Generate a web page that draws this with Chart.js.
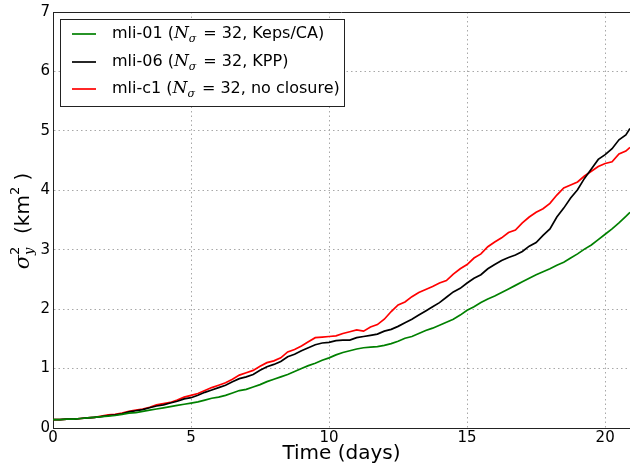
<!DOCTYPE html>
<html>
<head>
<meta charset="utf-8">
<script src="https://cdn.jsdelivr.net/npm/chart.js@4/dist/chart.umd.min.js"></script>
<style>
  html, body { margin: 0; padding: 0; background: #fff; }
  #wrap { width: 630px; height: 463px; }
</style>
</head>
<body>
<div id="wrap"><canvas id="c" width="630" height="463"></canvas></div>
<script>
// Time axis (days)
const days = [
  0, 0.25, 0.5, 0.75, 1, 1.25, 1.5, 1.75, 2, 2.25, 2.5, 2.75, 3, 3.25, 3.5, 3.75,
  4, 4.25, 4.5, 4.75, 5, 5.25, 5.5, 5.75, 6, 6.25, 6.5, 6.75, 7, 7.25, 7.5, 7.75,
  8, 8.25, 8.5, 8.75, 9, 9.25, 9.5, 9.75, 10, 10.25, 10.5, 10.75, 11, 11.25, 11.5, 11.75,
  12, 12.25, 12.5, 12.75, 13, 13.25, 13.5, 13.75, 14, 14.25, 14.5, 14.75, 15, 15.25, 15.5, 15.75,
  16, 16.25, 16.5, 16.75, 17, 17.25, 17.5, 17.75, 18, 18.25, 18.5, 18.75, 19, 19.25, 19.5, 19.75,
  20, 20.25, 20.5, 20.75, 20.9
];

// Meridional dispersion sigma_y^2 (km^2)
const mli01 = [
  0.14, 0.14, 0.15, 0.15, 0.16, 0.17, 0.18, 0.19, 0.20, 0.21, 0.23, 0.25, 0.26, 0.28, 0.30, 0.32,
  0.34, 0.36, 0.38, 0.40, 0.42, 0.44, 0.47, 0.50, 0.52, 0.55, 0.59, 0.63, 0.65, 0.69, 0.73, 0.78,
  0.82, 0.86, 0.90, 0.95, 1.00, 1.05, 1.09, 1.14, 1.18, 1.23, 1.27, 1.30, 1.33, 1.35, 1.36, 1.37,
  1.39, 1.42, 1.46, 1.51, 1.54, 1.59, 1.64, 1.68, 1.73, 1.78, 1.83, 1.90, 1.98, 2.04, 2.11, 2.17,
  2.22, 2.28, 2.34, 2.40, 2.46, 2.52, 2.58, 2.63, 2.68, 2.74, 2.79, 2.86, 2.93, 3.01, 3.08, 3.17,
  3.26, 3.35, 3.45, 3.56, 3.63
];
const mli06 = [
  0.14, 0.14, 0.15, 0.15, 0.16, 0.17, 0.18, 0.19, 0.21, 0.22, 0.24, 0.27, 0.29, 0.31, 0.34, 0.37,
  0.39, 0.42, 0.45, 0.49, 0.51, 0.55, 0.60, 0.64, 0.68, 0.72, 0.78, 0.83, 0.86, 0.90, 0.97, 1.03,
  1.07, 1.12, 1.20, 1.24, 1.30, 1.35, 1.40, 1.43, 1.44, 1.47, 1.48, 1.48, 1.52, 1.54, 1.56, 1.58,
  1.63, 1.66, 1.71, 1.77, 1.83, 1.90, 1.97, 2.04, 2.11, 2.20, 2.29, 2.35, 2.44, 2.52, 2.58, 2.68,
  2.75, 2.82, 2.87, 2.91, 2.97, 3.06, 3.12, 3.24, 3.35, 3.55, 3.70, 3.87, 4.01, 4.20, 4.36, 4.52,
  4.60, 4.70, 4.85, 4.93, 5.04
];
const mlic1 = [
  0.14, 0.14, 0.15, 0.15, 0.16, 0.17, 0.18, 0.20, 0.22, 0.23, 0.25, 0.28, 0.30, 0.32, 0.35, 0.39,
  0.41, 0.43, 0.47, 0.52, 0.55, 0.58, 0.63, 0.68, 0.72, 0.76, 0.82, 0.89, 0.93, 0.97, 1.04, 1.10,
  1.13, 1.18, 1.28, 1.32, 1.38, 1.45, 1.52, 1.53, 1.54, 1.55, 1.59, 1.62, 1.65, 1.63, 1.70, 1.74,
  1.83, 1.96, 2.07, 2.12, 2.21, 2.28, 2.33, 2.38, 2.44, 2.48, 2.59, 2.68, 2.75, 2.86, 2.93, 3.05,
  3.13, 3.20, 3.29, 3.33, 3.45, 3.55, 3.63, 3.69, 3.78, 3.92, 4.04, 4.09, 4.14, 4.24, 4.32, 4.40,
  4.45, 4.48, 4.61, 4.66, 4.72
];

const runNames = ['mli-01', 'mli-06', 'mli-c1'];
const closures = ['Keps/CA', 'KPP', 'no closure'];
const nSigma = [32, 32, 32];
const lineColors = ['#008000', '#000000', '#ff0000'];
const xTicks = [0, 5, 10, 15, 20];
const yTicks = [0, 1, 2, 3, 4, 5, 6, 7];

const series = [mli01, mli06, mlic1];
const datasets = series.map((vals, i) => ({
  label: runNames[i] + ' (Nσ = ' + nSigma[i] + ', ' + closures[i] + ')',
  data: vals.map((v, k) => ({ x: days[k], y: v })),
  borderColor: lineColors[i],
  backgroundColor: lineColors[i],
  borderWidth: 1.7,
  pointRadius: 0,
  tension: 0,
  fill: false
}));

const SANS = '"DejaVu Sans", sans-serif';
const SERIF = '"DejaVu Serif", serif';

// Top frame line, custom legend with math subscripts, rotated y-axis label
const decorations = {
  id: 'decorations',
  afterDraw(chart) {
    const ctx = chart.ctx;
    const a = chart.chartArea;
    ctx.save();
    // top spine
    ctx.strokeStyle = '#222';
    ctx.lineWidth = 1;
    ctx.beginPath();
    ctx.moveTo(a.left, a.top + 0.5);
    ctx.lineTo(a.right, a.top + 0.5);
    ctx.stroke();

    // legend
    const bx = 60.5, by = 19.5, bw = 284, bh = 87;
    ctx.fillStyle = '#fff';
    ctx.fillRect(bx, by, bw, bh);
    ctx.strokeStyle = '#222';
    ctx.lineWidth = 1;
    ctx.strokeRect(bx, by, bw, bh);
    const rowY = [34, 62, 89];
    for (let i = 0; i < runNames.length; i++) {
      const y = rowY[i];
      ctx.strokeStyle = lineColors[i];
      ctx.lineWidth = 1.7;
      ctx.beginPath();
      ctx.moveTo(72, y);
      ctx.lineTo(96, y);
      ctx.stroke();
      ctx.fillStyle = '#000';
      ctx.textBaseline = 'middle';
      ctx.textAlign = 'left';
      let x = 112;
      ctx.font = '16px ' + SANS;
      const head = runNames[i] + ' (';
      ctx.fillText(head, x, y);
      x += ctx.measureText(head).width;
      ctx.font = 'italic 17px ' + SERIF;
      ctx.fillText('N', x, y);
      x += ctx.measureText('N').width;
      ctx.font = 'italic 11px ' + SERIF;
      ctx.fillText('σ', x, y + 5);
      x += ctx.measureText('σ').width + 7;
      ctx.font = '16px ' + SANS;
      ctx.fillText('= ' + nSigma[i] + ', ' + closures[i] + ')', x, y);
    }

    // y-axis title: sigma_y^2 (km^2)
    ctx.translate(24, (a.top + a.bottom) / 2 + 1);
    ctx.rotate(-Math.PI / 2);
    const parts = [
      { t: 'σ', f: 'italic 21px ' + SERIF, dy: 0 },
      { t: '2', f: '13px ' + SANS, dy: -8, stackWith: { t: 'y', f: 'italic 13px ' + SERIF, dy: 6 } },
      { t: '  (km', f: '20px ' + SANS, dy: 0 },
      { t: '2', f: '13px ' + SANS, dy: -8 },
      { t: ' )', f: '20px ' + SANS, dy: 0 }
    ];
    let total = 0;
    const widths = parts.map(p => {
      ctx.font = p.f;
      let w = ctx.measureText(p.t).width;
      if (p.stackWith) {
        ctx.font = p.stackWith.f;
        w = Math.max(w, ctx.measureText(p.stackWith.t).width);
      }
      total += w;
      return w;
    });
    let px = -total / 2;
    ctx.fillStyle = '#000';
    ctx.textBaseline = 'middle';
    ctx.textAlign = 'left';
    parts.forEach((p, k) => {
      ctx.font = p.f;
      ctx.fillText(p.t, px, p.dy);
      if (p.stackWith) {
        ctx.font = p.stackWith.f;
        ctx.fillText(p.stackWith.t, px, p.stackWith.dy);
      }
      px += widths[k];
    });
    ctx.restore();
  }
};

const gridStyle = { color: '#a8a8a8', lineWidth: 1, drawTicks: false };
const borderStyle = { color: '#222', width: 1, dash: [1.5, 3] };

new Chart(document.getElementById('c'), {
  type: 'line',
  data: { datasets },
  plugins: [decorations],
  options: {
    responsive: false,
    animation: false,
    layout: { padding: { top: 11, right: 0, left: 0, bottom: 0 } },
    plugins: { legend: { display: false }, tooltip: { enabled: false } },
    scales: {
      x: {
        type: 'linear',
        min: 0,
        max: 20.9,
        afterBuildTicks: (axis) => { axis.ticks = xTicks.map(v => ({ value: v })); },
        afterFit: (axis) => { axis.height = 35; },
        ticks: { color: '#000', font: { family: SANS, size: 15 }, padding: 1, maxRotation: 0 },
        grid: gridStyle,
        border: borderStyle,
        title: {
          display: true,
          text: 'Time (days)',
          color: '#000',
          font: { family: SANS, size: 20 },
          padding: { top: 0, bottom: -3 }
        }
      },
      y: {
        type: 'linear',
        min: 0,
        max: 7,
        afterBuildTicks: (axis) => { axis.ticks = yTicks.map(v => ({ value: v })); },
        afterFit: (axis) => { axis.width = 53; },
        ticks: { color: '#000', font: { family: SANS, size: 15 }, padding: 3 },
        grid: gridStyle,
        border: borderStyle
      }
    }
  }
});
</script>
</body>
</html>
